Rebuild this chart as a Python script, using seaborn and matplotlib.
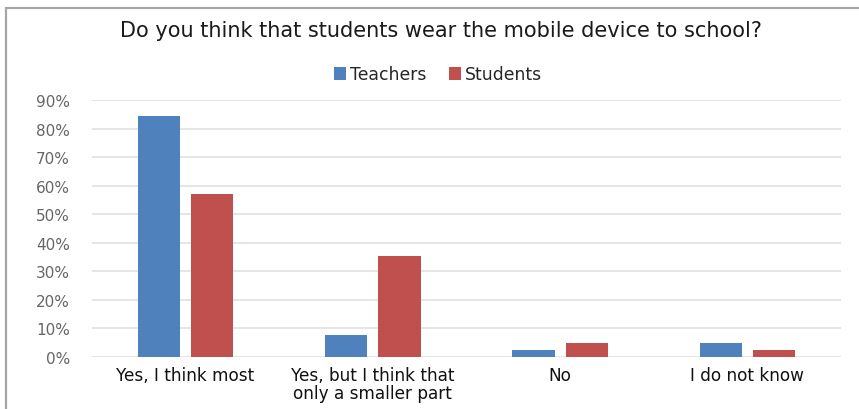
import matplotlib
matplotlib.use("Agg")
import matplotlib.pyplot as plt
import seaborn as sns
import pandas as pd
from matplotlib.patches import Rectangle, Patch
from matplotlib.ticker import PercentFormatter

# Survey answers (share of respondents)
categories = [
    "Yes, I think most",
    "Yes, but I think that\nonly a smaller part",
    "No",
    "I do not know",
]
groups = ["Teachers", "Students"]
teachers = [0.845, 0.077, 0.025, 0.049]
students = [0.570, 0.354, 0.049, 0.022]
y_ticks = [0.0, 0.1, 0.2, 0.3, 0.4, 0.5, 0.6, 0.7, 0.8, 0.9]
title = "Do you think that students wear the mobile device to school?"

colors = ["#4F81BD", "#C0504D"]

df = pd.DataFrame({
    "answer": categories * 2,
    "group": [groups[0]] * len(teachers) + [groups[1]] * len(students),
    "share": teachers + students,
})

sns.set_theme(style="white")
plt.rcParams["font.family"] = ["DejaVu Sans"]

W, H = 859, 410
fig = plt.figure(figsize=(W / 100, H / 100), dpi=100)
fig.patch.set_facecolor("white")

ax_left, ax_right, ax_top, ax_bottom = 92, 841, 101, 357.7
ax = fig.add_axes([ax_left / W, (H - ax_bottom) / H,
                   (ax_right - ax_left) / W, (ax_bottom - ax_top) / H])

sns.barplot(data=df, x="answer", y="share", hue="group", hue_order=groups,
            palette=colors, saturation=1, width=0.57, gap=0.21,
            edgecolor="none", ax=ax, legend=False, zorder=3)

ax.set_xlim(-0.5, len(categories) - 0.5)
ax.set_ylim(0, 0.9)
ax.set_yticks(y_ticks)
ax.yaxis.set_major_formatter(PercentFormatter(1.0, decimals=0))
ax.grid(axis="y", color="#E0E0E0", linewidth=1.2, zorder=0)
ax.set_axisbelow(True)
for s in ax.spines.values():
    s.set_visible(False)
ax.set_xlabel("")
ax.set_ylabel("")
ax.tick_params(axis="y", length=0, pad=16, labelsize=11, labelcolor="#666666")
ax.tick_params(axis="x", length=0, pad=7, labelsize=12.2, labelcolor="#111111")
for lbl in ax.get_xticklabels():
    lbl.set_linespacing(1.0)

# Title and legend above the plot area
fig.text(441 / W, (H - 31) / H, title, ha="center", va="center",
         fontsize=15, color="#1a1a1a")
handles = [Patch(facecolor=c, edgecolor="none") for c in colors]
fig.legend(handles, groups, loc="center", bbox_to_anchor=(438 / W, (H - 75.5) / H),
           ncol=2, frameon=False, fontsize=12.4, handlelength=0.7, handleheight=0.7,
           handletextpad=0.25, columnspacing=1.3)

# Chart frame
fig.add_artist(Rectangle((6 / W, -0.2), 1.2, (H - 9) / H + 0.2,
                         transform=fig.transFigure, fill=False,
                         edgecolor="#A6A6A6", linewidth=1.6))

fig.savefig("out.png", dpi=100)
